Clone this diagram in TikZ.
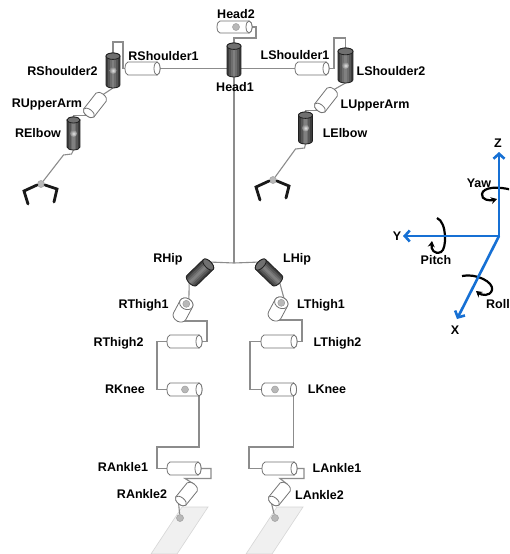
\documentclass[tikz,border=0pt]{standalone}
\usepackage{fontspec}
\setmainfont{Liberation Sans}
\usetikzlibrary{arrows.meta,calc}
\pgfdeclarelayer{bg}
\pgfsetlayers{bg,main}
\definecolor{axisblue}{RGB}{22,112,212}
% Joint cylinders, drawn along the local x axis with the end cap at +x.
% Arguments: length, diameter, x radius of the end cap (all in pt).
\tikzset{
  pics/lightjoint/.style n args={3}{code={
    \pgfmathsetmacro\hl{#1/2}\pgfmathsetmacro\hd{#2/2}
    \pgfmathsetmacro\rx{#3}\pgfmathsetmacro\cx{\hl-\rx}
    \path[fill=white, draw=black!55, line width=0.8pt]
      (\cx pt,-\hd pt) -- (-\cx pt,-\hd pt)
      arc[start angle=-90, end angle=-270, x radius=\rx pt, y radius=\hd pt]
      -- (\cx pt,\hd pt)
      arc[start angle=90, end angle=-90, x radius=\rx pt, y radius=\hd pt] -- cycle;
    \path[fill=white, draw=black!55, line width=0.8pt]
      (\cx pt,0pt) ellipse[x radius=\rx pt, y radius=\hd pt];
    \coordinate (-east) at (\hl pt,0pt);
    \coordinate (-west) at (-\hl pt,0pt);
    \coordinate (-cap) at (\cx pt,0pt);
    \coordinate (-c) at (0pt,0pt);
  }},
  pics/darkjoint/.style n args={3}{code={
    \pgfmathsetmacro\hl{#1/2}\pgfmathsetmacro\hd{#2/2}
    \pgfmathsetmacro\rx{#3}\pgfmathsetmacro\cx{\hl-\rx}
    \begin{scope}
      \clip (\cx pt,-\hd pt) -- (-\cx pt,-\hd pt)
        arc[start angle=-90, end angle=-270, x radius=\rx pt, y radius=\hd pt]
        -- (\cx pt,\hd pt)
        arc[start angle=90, end angle=-90, x radius=\rx pt, y radius=\hd pt] -- cycle;
      \fill[black!76] (-\hl pt,-\hd pt) rectangle (\hl pt,\hd pt);
      \fill[black!66] (-\hl pt,-0.7*\hd pt) rectangle (\hl pt,0.7*\hd pt);
      \fill[black!57] (-\hl pt,-0.42*\hd pt) rectangle (\hl pt,0.42*\hd pt);
      \fill[black!50] (-\hl pt,-0.18*\hd pt) rectangle (\hl pt,0.18*\hd pt);
    \end{scope}
    \path[draw=black!88, line width=0.8pt]
      (\cx pt,-\hd pt) -- (-\cx pt,-\hd pt)
      arc[start angle=-90, end angle=-270, x radius=\rx pt, y radius=\hd pt]
      -- (\cx pt,\hd pt)
      arc[start angle=90, end angle=-90, x radius=\rx pt, y radius=\hd pt] -- cycle;
    \path[fill=black!56, draw=black!88, line width=0.8pt]
      (\cx pt,0pt) ellipse[x radius=\rx pt, y radius=\hd pt];
    \coordinate (-east) at (\hl pt,0pt);
    \coordinate (-west) at (-\hl pt,0pt);
    \coordinate (-cap) at (\cx pt,0pt);
    \coordinate (-c) at (0pt,0pt);
  }}
}
\begin{document}
\begin{tikzpicture}[x=1pt,y=-1pt,
  wire/.style={draw=black!45, line width=1.1pt},
  jdot/.style={circle, fill=black!28, draw=black!38, line width=0.5pt, minimum size=7pt, inner sep=0pt},
  lbl/.style={font=\bfseries\fontsize{12.5}{14}\selectfont, anchor=base, inner sep=0pt},
  claw/.style={draw=black!90, line width=2.8pt, line cap=round, line join=miter},
  axisline/.style={draw=axisblue, line width=2.6pt, >={Straight Barb[length=5pt,width=11pt]}},
  spin/.style={draw=black, line width=2.2pt, -{Stealth[length=6pt,width=7pt]}},
  footplate/.style={fill=black!6, draw=black!16, line width=0.6pt}
]
\clip (0,0) rectangle (509,554);

% ---------- joints: head and arms ----------
\pic (Head2) at (234.5,27) {lightjoint={35}{12}{3}};
\pic[rotate=90] (Head1) at (234,60) {darkjoint={34}{14}{3.2}};
\pic (RShoulder1) at (142.5,68.5) {lightjoint={35}{13}{3}};
\pic (LShoulder1) at (312,68.5) {lightjoint={34}{13}{3}};
\pic[rotate=90] (RShoulder2) at (113,70.5) {darkjoint={35}{14}{3.2}};
\pic[rotate=90] (LShoulder2) at (345.5,65.5) {darkjoint={35}{15}{3.4}};
\pic[rotate=-128] (RUpperArm) at (95,105) {lightjoint={27}{13}{3.5}};
\pic[rotate=-128] (LUpperArm) at (326,100) {lightjoint={27}{13}{3.5}};
\pic[rotate=90] (RElbow) at (73.5,133.5) {darkjoint={33}{13}{3}};
\pic[rotate=90] (LElbow) at (305.5,128) {darkjoint={32}{14}{3.2}};

% ---------- joints: legs ----------
\pic[rotate=44] (RHip) at (200,272.5) {darkjoint={30}{14}{3.5}};
\pic[rotate=136] (LHip) at (269,272.5) {darkjoint={30}{14}{3.5}};
\pic[rotate=62] (RThigh1) at (183,310) {lightjoint={25}{14}{5.5}};
\pic[rotate=62] (LThigh1) at (278,309) {lightjoint={25}{14}{5.5}};
\pic (RThigh2) at (184.5,341.5) {lightjoint={35}{13}{3}};
\pic (LThigh2) at (279,341.5) {lightjoint={36}{13}{3}};
\pic (RKnee) at (184.5,389.5) {lightjoint={35}{13}{3}};
\pic (LKnee) at (279,389.5) {lightjoint={35}{13}{3}};
\pic (RAnkle1) at (184,468.5) {lightjoint={34}{13}{3}};
\pic (LAnkle1) at (279.5,468.5) {lightjoint={35}{13}{3}};
\pic[rotate=-129] (RAnkle2) at (186.5,494) {lightjoint={25}{13}{3.5}};
\pic[rotate=-129] (LAnkle2) at (279.5,494) {lightjoint={25}{13}{3.5}};

% highlights on the dark joints
\foreach \j in {RShoulder2,LShoulder2,RElbow,LElbow}
  \shade[inner color=black!10, outer color=black!50] (\j-c) circle (3.5);

% small markers
\node[jdot] (h2dot) at (236,27) {};
\node[jdot] (rkdot) at (185,389.5) {};
\node[jdot] (lkdot) at (275,389.5) {};
\node[jdot] (rt1dot) at (RThigh1-cap) {};
\node[jdot] (lt1dot) at (LThigh1-cap) {};
\node[jdot] (rgrip) at (41,184) {};
\node[jdot] (lgrip) at (273,180) {};
\node[jdot] (rfoot) at (180,518) {};
\node[jdot] (lfoot) at (275,518) {};
\coordinate (hipjoint) at (234,263);

% grippers
\draw[claw] ($(rgrip)+(-4,1)$) -- ++(-13,6) -- ++(4,13);
\draw[claw] ($(rgrip)+(4,1)$) -- ++(12,4) -- ++(-3,13);
\draw[claw] ($(lgrip)+(-4,1)$) -- ++(-13,6) -- ++(4,13);
\draw[claw] ($(lgrip)+(4,1)$) -- ++(12,5) -- ++(-3,12);

% ---------- links ----------
\begin{pgfonlayer}{bg}
  \fill[white] (0,0) rectangle (509,554);
  \path[footplate] (182,507) -- (208,507) -- (177,554) -- (151,554) -- cycle;
  \path[footplate] (277,507) -- (303,507) -- (272,554) -- (246,554) -- cycle;

  \draw[wire] (Head2-east) -- ++(4,0) |- ($(Head1-east)+(0,-5)$) -- (Head1-east);
  \draw[wire] (RShoulder1-east) -- (LShoulder1-west);
  \draw[wire] (Head1-west) -- (hipjoint);
  \draw[wire] (RHip-east) -- (hipjoint) -- (LHip-east);
  \draw[wire] (RShoulder1-west) -- ++(-2,0) |- ($(RShoulder2-east)+(0,-11)$) -- (RShoulder2-east);
  \draw[wire] (LShoulder1-east) -- ++(5,0) |- ($(LShoulder2-east)+(0,-10)$) -- (LShoulder2-east);
  \draw[wire] (RShoulder2-west) -- (RUpperArm-west);
  \draw[wire] (RUpperArm-east) -| (RElbow-east);
  \draw[wire] (LShoulder2-west) -- (LUpperArm-west);
  \draw[wire] (LUpperArm-east) -| (LElbow-east);
  \draw[wire] (RElbow-west) -- ++(-2,4) -- ++(-8,1) -- (rgrip);
  \draw[wire] (LElbow-west) -- ++(-1,4) -- ++(-9,1) -- (lgrip);

  \draw[wire] (RHip-west) -- (RThigh1-east);
  \draw[wire] (LHip-west) -- (LThigh1-east);
  \draw[wire] (RThigh1-west) -| ($(RThigh2-east)+(5,0)$) -- (RThigh2-east);
  \draw[wire] (LThigh1-west) -| ($(LThigh2-east)+(5,0)$) -- (LThigh2-east);
  \draw[wire] (RThigh2-west) -- ++(-10,0) |- (RKnee-west);
  \draw[wire] (LThigh2-west) -- ++(-11,0) |- (LKnee-west);
  \draw[wire] ($(RKnee-east)+(-3,0)$) -- ++(0,57.5) -| ($(RAnkle1-west)+(-10,0)$) -- (RAnkle1-west);
  \draw[wire] ($(LKnee-east)+(-3,0)$) -- ++(0,57.5) -| ($(LAnkle1-west)+(-13,0)$) -- (LAnkle1-west);
  \draw[wire] (RAnkle1-east) -- ++(10,0) -- ++(0,10) -- ++(-26,0) -- (RAnkle2-west);
  \draw[wire] (LAnkle1-east) -- ++(7,0) -- ++(0,10) -- ++(-24,0) -- (LAnkle2-west);
  \draw[wire] (RAnkle2-east) -- (rfoot);
  \draw[wire] (LAnkle2-east) -- (lfoot);
\end{pgfonlayer}

% ---------- joint names ----------
\node[lbl] (tHead2) at (236,18) {Head2};
\node[lbl] (tHead1) at (235,91.5) {Head1};
\node[lbl] (tRShoulder1) at (163.5,60) {RShoulder1};
\node[lbl] (tLShoulder1) at (295,59) {LShoulder1};
\node[lbl] (tRShoulder2) at (62.5,75) {RShoulder2};
\node[lbl] (tLShoulder2) at (391,75) {LShoulder2};
\node[lbl] (tRUpperArm) at (47,107.5) {RUpperArm};
\node[lbl] (tLUpperArm) at (375,108) {LUpperArm};
\node[lbl] (tRElbow) at (38,137) {RElbow};
\node[lbl] (tLElbow) at (345,137) {LElbow};
\node[lbl] (tRHip) at (168,262.5) {RHip};
\node[lbl] (tLHip) at (297,262.5) {LHip};
\node[lbl] (tRThigh1) at (143.5,308.5) {RThigh1};
\node[lbl] (tLThigh1) at (321,308.5) {LThigh1};
\node[lbl] (tRThigh2) at (118.5,346) {RThigh2};
\node[lbl] (tLThigh2) at (337.5,346) {LThigh2};
\node[lbl] (tRKnee) at (125,393.5) {RKnee};
\node[lbl] (tLKnee) at (327,393.5) {LKnee};
\node[lbl] (tRAnkle1) at (123,471) {RAnkle1};
\node[lbl] (tLAnkle1) at (337,472.5) {LAnkle1};
\node[lbl] (tRAnkle2) at (142,498.5) {RAnkle2};
\node[lbl] (tLAnkle2) at (319.5,499) {LAnkle2};

% ---------- reference frame ----------
\coordinate (O) at (499,236);
\coordinate (Ztip) at (499,152);
\coordinate (Ytip) at (403,236);
\coordinate (Xtip) at (457,319);
\draw[spin] (512,190) .. controls (498,186) and (483,187) .. (482,194) .. controls (481,200) and (490,201) .. (497,199);
\draw[spin] (437,218) .. controls (447,222) and (447,249) .. (441,252) .. controls (434,255) and (431,249) .. (432,241);
\draw[spin] (462,276) .. controls (476,273) and (494,282) .. (492,290) .. controls (490,297) and (481,295) .. (476,291);
\draw[axisline,<->] (Ytip) -- (O) -- (Ztip);
\draw[axisline,->] (O) -- (Xtip);
\node[lbl] (tZ) at (498,147.5) {Z};
\node[lbl] (tY) at (397,240.5) {Y};
\node[lbl] (tX) at (455,334.5) {X};
\node[lbl] (tYaw) at (479,187) {Yaw};
\node[lbl] (tPitch) at (436,264.5) {Pitch};
\node[lbl] (tRoll) at (498,308) {Roll};
\end{tikzpicture}
\end{document}
